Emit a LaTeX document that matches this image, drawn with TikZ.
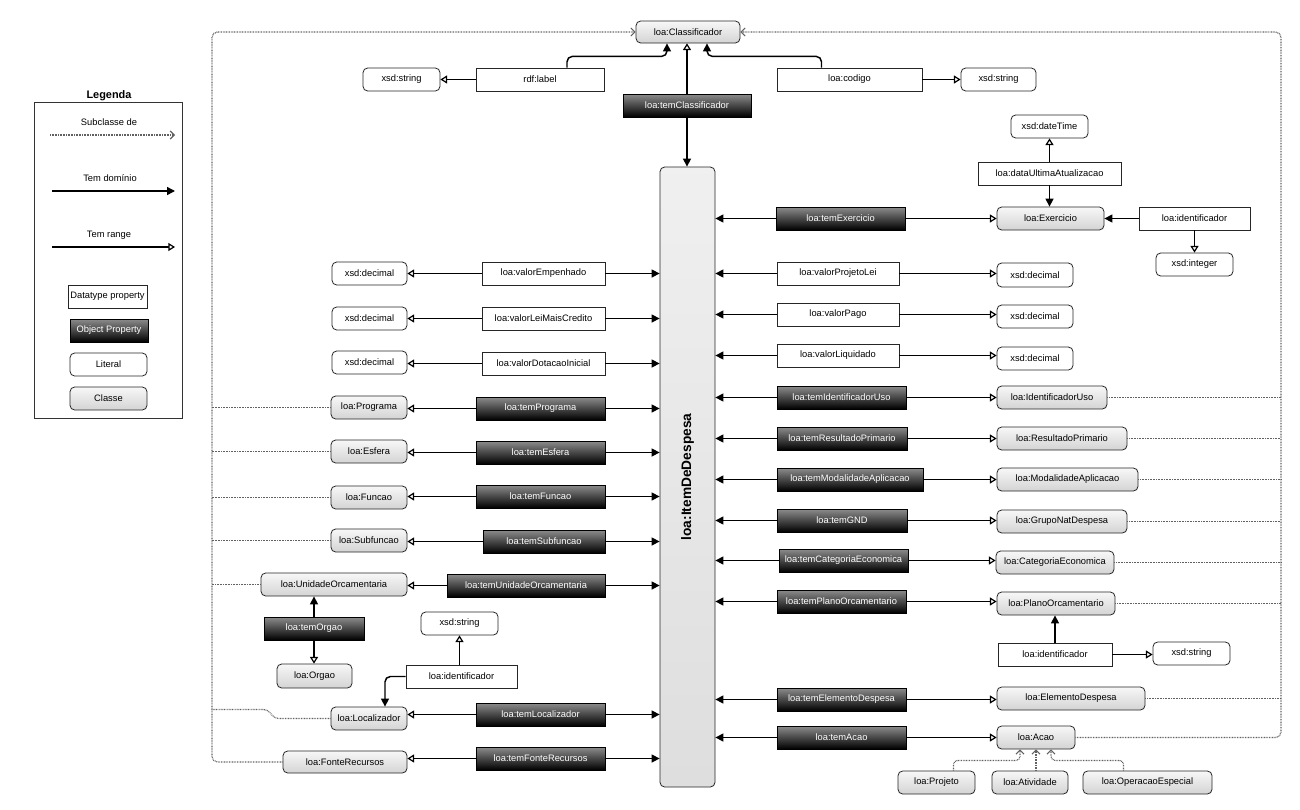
\documentclass[tikz,border=0pt]{standalone}
\usepackage{fontspec}
\setmainfont{Liberation Sans}
\usetikzlibrary{arrows.meta,calc}

% box placed by its corner coordinates: name, style, x1, y1, x2, y2, text
\newcommand\bx[7]{%
  \pgfmathsetmacro\bxw{(#5-#3)*0.75}%
  \pgfmathsetmacro\bxh{(#6-#4)*0.75}%
  \node[#2, minimum width=\bxw pt, minimum height=\bxh pt] (#1) at ({(#3+#5)/2},{(#4+#6)/2}) {#7};}

\tikzset{
  box/.style={inner sep=0pt, font=\fontsize{7}{8.4}\selectfont, draw=black!85, line width=0.6pt},
  cls/.style={box, rounded corners=3.5pt, top color=black!3, bottom color=black!17},
  lit/.style={box, rounded corners=3.5pt, fill=white},
  dtp/.style={box, fill=white},
  obp/.style={box, top color=black!45, bottom color=black, text=white, draw=black},
  lbl/.style={inner sep=0pt, font=\fontsize{7}{8.4}\selectfont},
  dom/.style={line width=1.1pt, -{Triangle[length=6pt,width=6pt]}},
  rng/.style={line width=1.1pt, -{Triangle[length=5pt,width=6pt,fill=white,line width=0.9pt]}},
  subline/.style={line width=0.9pt, dash pattern=on 0.6pt off 0.6pt, black!62},
  subarr/.style={subline, -{Straight Barb[length=3pt,width=6pt,line width=0.8pt]}},
}

\begin{document}
\begin{tikzpicture}[x=0.75pt,y=-0.75pt]
\useasboundingbox (0,0) rectangle (1300,810);

% ---------- legend ----------
\node[font=\bfseries\fontsize{8.2}{10}\selectfont] (legtitle) at (109,96) {Legenda};
\bx{legbox}{draw=black!80, line width=0.7pt, inner sep=0pt}{34}{102}{182}{418}{}
\node[lbl] (lgt1) at (109,122) {Subclasse de};
\node[lbl] (lgt2) at (110,178) {Tem domínio};
\node[lbl] (lgt3) at (109,235) {Tem range};
\coordinate (lg1a) at (50,135);  \coordinate (lg1b) at (175,135);
\coordinate (lg2a) at (52,191);  \coordinate (lg2b) at (175,191);
\coordinate (lg3a) at (52,247);  \coordinate (lg3b) at (175,247);
\draw[subarr] (lg1a) -- (lg1b);
\draw[dom] (lg2a) -- (lg2b);
\draw[rng] (lg3a) -- (lg3b);
\bx{legdtp}{dtp}{68}{285}{147}{308}{Datatype property}
\bx{legobp}{obp}{70}{319}{148}{342}{Object Property}
\bx{leglit}{lit}{70}{353}{147}{376}{Literal}
\bx{legcls}{cls}{70}{387}{147}{410}{Classe}

% ---------- central class ----------
\bx{item}{cls, top color=black!6, bottom color=black!13}{660}{167}{715}{787}{}
\node[rotate=90, font=\bfseries\fontsize{10.3}{12}\selectfont] (itemlbl) at (item.center) {loa:ItemDeDespesa};

% ---------- top ----------
\bx{clf}{cls}{636}{21}{740}{43}{loa:Classificador}
\bx{s1}{lit}{363}{68}{440}{91}{xsd:string}
\bx{lab}{dtp}{476}{68}{604}{91}{rdf:label}
\bx{cod}{dtp}{777}{68}{922}{91}{loa:codigo}
\bx{s2}{lit}{961}{68}{1036}{91}{xsd:string}
\bx{tc}{obp}{623}{94}{751}{117}{loa:temClassificador}

% ---------- right upper ----------
\bx{dt}{lit}{1011}{115}{1088}{138}{xsd:dateTime}
\bx{dua}{dtp}{978}{162}{1121}{185}{loa:dataUltimaAtualizacao}
\bx{exe}{cls}{997}{207}{1104}{230}{loa:Exercicio}
\bx{idex}{dtp}{1139}{207}{1250}{230}{loa:identificador}
\bx{int}{lit}{1156}{253}{1233}{276}{xsd:integer}
\bx{tex}{obp}{776}{207}{905}{230}{loa:temExercicio}

\bx{vPL}{dtp}{777}{262}{899}{285}{loa:valorProjetoLei}
\bx{vP}{dtp}{777}{303}{899}{326}{loa:valorPago}
\bx{vLq}{dtp}{777}{344}{899}{367}{loa:valorLiquidado}
\bx{d4}{lit}{997}{263}{1073}{287}{xsd:decimal}
\bx{d5}{lit}{997}{305}{1073}{328}{xsd:decimal}
\bx{d6}{lit}{997}{347}{1073}{370}{xsd:decimal}

% ---------- right object properties ----------
\bx{tidu}{obp}{777}{386}{906}{409}{loa:temIdentificadorUso}
\bx{trp}{obp}{777}{427}{907}{450}{loa:temResultadoPrimario}
\bx{tma}{obp}{777}{468}{923}{491}{loa:temModalidadeAplicacao}
\bx{tgnd}{obp}{777}{509}{907}{532}{loa:temGND}
\bx{tce}{obp}{779}{549}{908}{572}{loa:temCategoriaEconomica}
\bx{tpo}{obp}{777}{590}{906}{613}{loa:temPlanoOrcamentario}
\bx{ted}{obp}{777}{688}{906}{711}{loa:temElementoDespesa}
\bx{tac}{obp}{777}{726}{906}{749}{loa:temAcao}

\bx{idu}{cls}{997}{386}{1107}{409}{loa:IdentificadorUso}
\bx{rp}{cls}{997}{427}{1127}{450}{loa:ResultadoPrimario}
\bx{ma}{cls}{997}{468}{1138}{491}{loa:ModalidadeAplicacao}
\bx{gnd}{cls}{997}{510}{1127}{533}{loa:GrupoNatDespesa}
\bx{ce}{cls}{996}{551}{1114}{574}{loa:CategoriaEconomica}
\bx{po}{cls}{997}{592}{1115}{615}{loa:PlanoOrcamentario}
\bx{idpo}{dtp}{998}{643}{1112}{666}{loa:identificador}
\bx{s4}{lit}{1153}{642}{1230}{665}{xsd:string}
\bx{ed}{cls}{997}{687}{1145}{710}{loa:ElementoDespesa}
\bx{acao}{cls}{997}{726}{1075}{749}{loa:Acao}
\bx{proj}{cls}{898}{771}{975}{794}{loa:Projeto}
\bx{ativ}{cls}{992}{771}{1068}{794}{loa:Atividade}
\bx{opesp}{cls}{1083}{771}{1212}{794}{loa:OperacaoEspecial}

% ---------- left ----------
\bx{d1}{lit}{332}{262}{407}{285}{xsd:decimal}
\bx{d2}{lit}{332}{307}{407}{330}{xsd:decimal}
\bx{d3}{lit}{332}{351}{407}{374}{xsd:decimal}
\bx{vE}{dtp}{482}{262}{605}{285}{loa:valorEmpenhado}
\bx{vL}{dtp}{482}{307}{605}{330}{loa:valorLeiMaisCredito}
\bx{vD}{dtp}{482}{352}{605}{375}{loa:valorDotacaoInicial}

\bx{prog}{cls}{331}{396}{407}{419}{loa:Programa}
\bx{esf}{cls}{331}{440}{407}{463}{loa:Esfera}
\bx{fun}{cls}{331}{486}{407}{509}{loa:Funcao}
\bx{subf}{cls}{331}{529}{407}{552}{loa:Subfuncao}
\bx{uo}{cls}{261}{573}{407}{596}{loa:UnidadeOrcamentaria}
\bx{org}{cls}{277}{664}{352}{688}{loa:Orgao}
\bx{loc}{cls}{331}{707}{407}{730}{loa:Localizador}
\bx{fr}{cls}{283}{751}{407}{773}{loa:FonteRecursos}
\bx{s3}{lit}{421}{612}{498}{635}{xsd:string}
\bx{idloc}{dtp}{406}{665}{517}{688}{loa:identificador}

\bx{tprog}{obp}{476}{397}{605}{420}{loa:temPrograma}
\bx{tesf}{obp}{476}{441}{605}{464}{loa:temEsfera}
\bx{tfun}{obp}{476}{485}{605}{508}{loa:temFuncao}
\bx{tsub}{obp}{483}{530}{605}{553}{loa:temSubfuncao}
\bx{tuo}{obp}{447}{574}{605}{597}{loa:temUnidadeOrcamentaria}
\bx{torg}{obp}{264}{617}{364}{640}{loa:temOrgao}
\bx{tloc}{obp}{476}{703}{605}{726}{loa:temLocalizador}
\bx{tfr}{obp}{476}{747}{605}{770}{loa:temFonteRecursos}

% ---------- subclass rails ----------
\coordinate (lrail) at (212,32);
\coordinate (rrail) at (1281,32);
\draw[subarr, rounded corners=4pt] (fr.west) -| (lrail) -- (clf.west);
\foreach \c in {prog, esf, fun, subf, uo}
  \draw[subline] (\c.west) -- (\c.west -| lrail);
\draw[subline, rounded corners=3pt] (loc.west) -- ++(-56,0) -- ++(-7,-9) -- ++(-56,0);
\draw[subarr, rounded corners=4pt] (acao.east) -| (rrail) -- (clf.east);
\foreach \c in {idu, rp, ma, gnd, ce, po, ed}
  \draw[subline] (\c.east) -- (\c.east -| rrail);
\draw[subarr, rounded corners=3pt] ($(proj.north)+(17,0)$) |- ($(acao.south)+(-16,11)$) -- ($(acao.south)+(-16,0)$);
\draw[subarr] (acao.south |- ativ.north) -- (acao.south);
\draw[subarr, rounded corners=3pt] ($(opesp.north)+(-24,0)$) |- ($(acao.south)+(15,11)$) -- ($(acao.south)+(15,0)$);

% ---------- top connectors ----------
\draw[rng] (lab.west) -- (s1.east |- lab.west);
\draw[dom, rounded corners=4pt] ($(lab.north)+(27,0)$) |- ($(clf.south)+(-21,13)$) -- ($(clf.south)+(-21,0)$);
\draw[dom, rounded corners=4pt] ($(cod.north)+(-28,0)$) |- ($(clf.south)+(19,13)$) -- ($(clf.south)+(19,0)$);
\draw[rng] (cod.east) -- (s2.west |- cod.east);
\draw[rng] (tc.north) -- (tc.north |- clf.south);
\draw[dom] (tc.south) -- (tc.south |- item.north);

% ---------- right upper connectors ----------
\draw[rng] (dua.north) -- (dua.north |- dt.south);
\draw[dom] (dua.south) -- (dua.south |- exe.north);
\draw[dom] (idex.west) -- (exe.east |- idex.west);
\draw[rng] (idex.south) -- (idex.south |- int.north);
\draw[dom] (idpo.north) -- (idpo.north |- po.south);
\draw[rng] (idpo.east) -- (s4.west |- idpo.east);

% ---------- left inner connectors ----------
\draw[dom] (torg.north) -- (torg.north |- uo.south);
\draw[rng] (torg.south) -- (torg.south |- org.north);
\draw[rng] (s3.south |- idloc.north) -- (s3.south);
\draw[dom, rounded corners=4pt] (idloc.west) -| ($(loc.north)+(16,0)$);

% ---------- properties to the central class ----------
\foreach \p/\t in {vE/d1, vL/d2, vD/d3, tprog/prog, tesf/esf, tfun/fun, tsub/subf, tuo/uo, tloc/loc, tfr/fr} {
  \draw[rng] (\p.west) -- (\t.east |- \p.west);
  \draw[dom] (\p.east) -- (item.west |- \p.east);
}
\foreach \p/\t in {tex/exe, vPL/d4, vP/d5, vLq/d6, tidu/idu, trp/rp, tma/ma, tgnd/gnd, tce/ce, tpo/po, ted/ed, tac/acao} {
  \draw[dom] (\p.west) -- (item.east |- \p.west);
  \draw[rng] (\p.east) -- (\t.west |- \p.east);
}
\end{tikzpicture}
\end{document}
